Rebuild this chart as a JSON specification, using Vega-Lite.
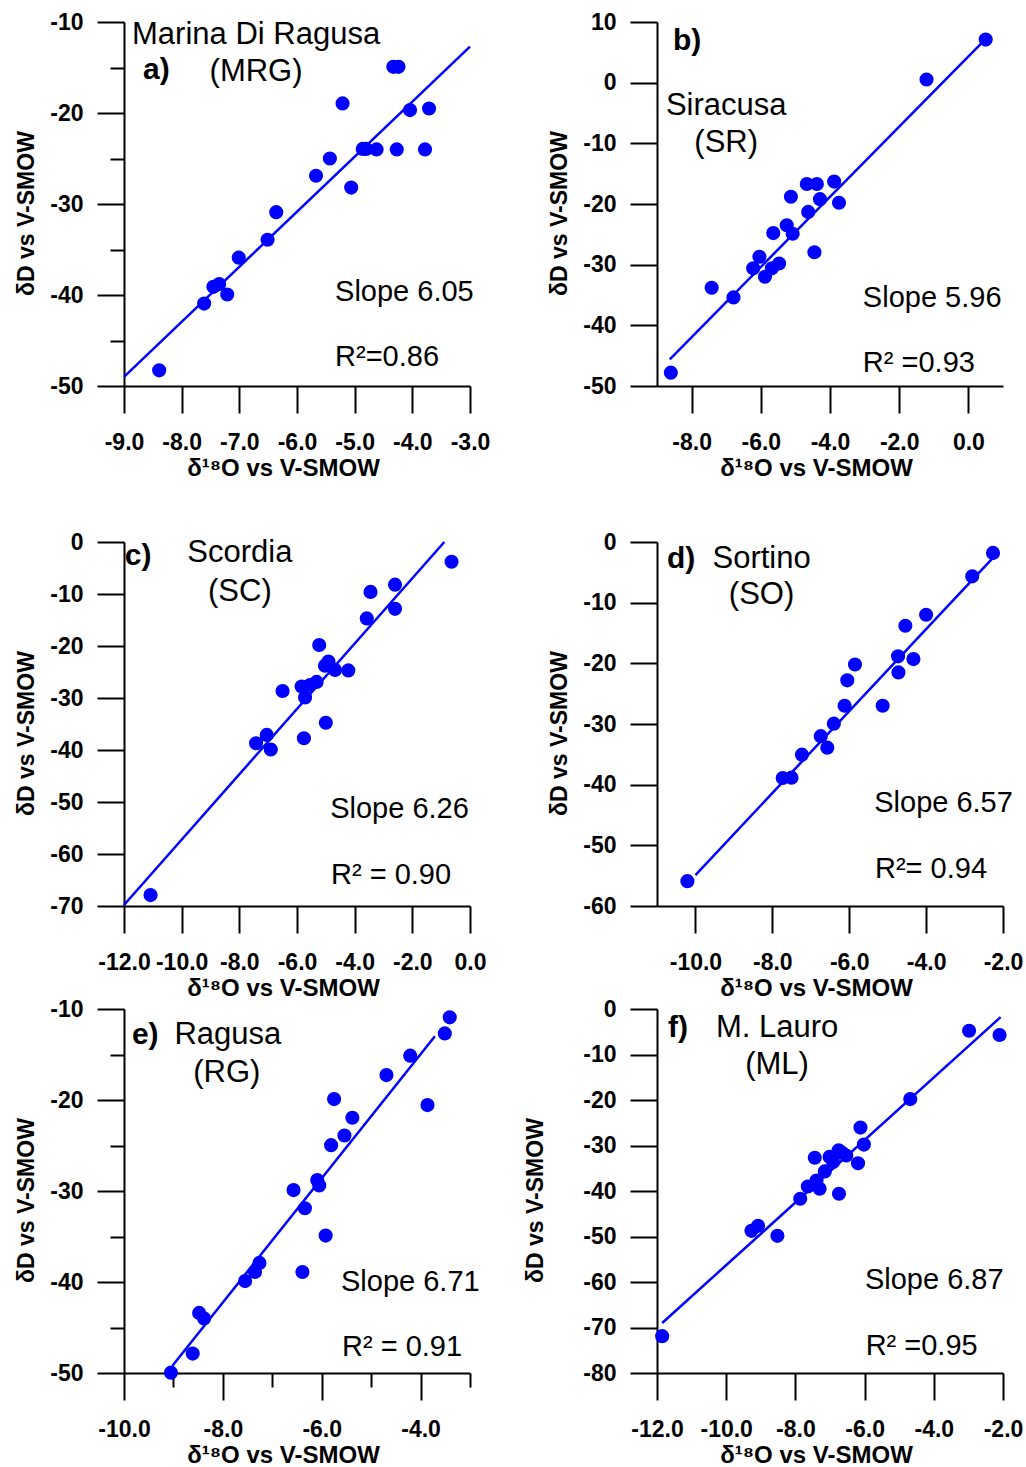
{
"$schema": "https://vega.github.io/schema/vega-lite/v6.json",
"padding": {"left": 15, "top": 11, "right": 5, "bottom": 5},
"background": "white",
"config": {
 "view": {"stroke": null},
 "font": "Liberation Sans",
 "axis": {"domainColor": "#000", "domainWidth": 2, "tickColor": "#000", "tickWidth": 2, "tickSize": 27, "labelFont": "Liberation Sans", "labelFontSize": 23, "labelFontWeight": "bold", "labelColor": "#000", "labelFlush": false, "labelOverlap": false, "labelBound": false, "titleFont": "Liberation Sans", "titleFontSize": 23, "titleFontWeight": "bold", "titleColor": "#000", "grid": false},
 "axisX": {"labelPadding": 18, "titlePadding": 2, "titleX": 159, "format": ".1f", "titleFontSize": 24},
 "axisY": {"labelPadding": 14, "titlePadding": 11, "titleY": 191, "format": "d"},
 "text": {"font": "Liberation Sans", "color": "#000"}
},
"datasets": {
 "pts": [
  {"p":"a","x":-8.39,"y":-48.28},{"p":"a","x":-7.61,"y":-40.94},{"p":"a","x":-7.45,"y":-39.1},{"p":"a","x":-7.35,"y":-38.8},{"p":"a","x":-7.21,"y":-39.95},{"p":"a","x":-7.01,"y":-35.9},{"p":"a","x":-6.51,"y":-33.93},{"p":"a","x":-6.36,"y":-30.9},{"p":"a","x":-5.67,"y":-26.9},{"p":"a","x":-5.43,"y":-25.0},{"p":"a","x":-5.21,"y":-18.95},{"p":"a","x":-5.06,"y":-28.2},{"p":"a","x":-4.86,"y":-23.95},{"p":"a","x":-4.8,"y":-23.95},{"p":"a","x":-4.62,"y":-24.0},{"p":"a","x":-4.27,"y":-24.0},{"p":"a","x":-4.33,"y":-14.93},{"p":"a","x":-4.24,"y":-14.93},{"p":"a","x":-4.04,"y":-19.68},{"p":"a","x":-3.71,"y":-19.5},{"p":"a","x":-3.78,"y":-24.0},
  {"p":"b","x":-8.6,"y":-47.8},{"p":"b","x":-7.42,"y":-33.8},{"p":"b","x":-6.79,"y":-35.4},{"p":"b","x":-6.22,"y":-30.6},{"p":"b","x":-6.04,"y":-28.7},{"p":"b","x":-5.88,"y":-32.0},{"p":"b","x":-5.68,"y":-30.6},{"p":"b","x":-5.47,"y":-29.8},{"p":"b","x":-5.64,"y":-24.8},{"p":"b","x":-5.25,"y":-23.5},{"p":"b","x":-5.08,"y":-24.9},{"p":"b","x":-5.13,"y":-18.8},{"p":"b","x":-4.67,"y":-16.7},{"p":"b","x":-4.38,"y":-16.7},{"p":"b","x":-4.63,"y":-21.3},{"p":"b","x":-4.29,"y":-19.2},{"p":"b","x":-4.45,"y":-27.96},{"p":"b","x":-3.88,"y":-16.3},{"p":"b","x":-3.74,"y":-19.8},{"p":"b","x":-1.21,"y":0.52},{"p":"b","x":0.5,"y":7.1},
  {"p":"c","x":-11.08,"y":-67.9},{"p":"c","x":-7.42,"y":-38.7},{"p":"c","x":-7.05,"y":-37.1},{"p":"c","x":-6.91,"y":-39.9},{"p":"c","x":-6.5,"y":-28.65},{"p":"c","x":-5.84,"y":-27.8},{"p":"c","x":-5.72,"y":-29.9},{"p":"c","x":-5.76,"y":-37.75},{"p":"c","x":-5.55,"y":-27.5},{"p":"c","x":-5.32,"y":-26.9},{"p":"c","x":-5.23,"y":-19.8},{"p":"c","x":-5.03,"y":-23.8},{"p":"c","x":-4.91,"y":-23.0},{"p":"c","x":-4.68,"y":-24.6},{"p":"c","x":-5.0,"y":-34.75},{"p":"c","x":-4.22,"y":-24.7},{"p":"c","x":-3.58,"y":-14.7},{"p":"c","x":-3.45,"y":-9.6},{"p":"c","x":-2.6,"y":-12.85},{"p":"c","x":-2.6,"y":-8.2},{"p":"c","x":-0.64,"y":-3.8},
  {"p":"d","x":-10.21,"y":-55.9},{"p":"d","x":-7.73,"y":-38.9},{"p":"d","x":-7.5,"y":-38.85},{"p":"d","x":-7.23,"y":-35.05},{"p":"d","x":-6.74,"y":-32.0},{"p":"d","x":-6.57,"y":-33.9},{"p":"d","x":-6.4,"y":-29.95},{"p":"d","x":-6.12,"y":-27.0},{"p":"d","x":-6.05,"y":-22.8},{"p":"d","x":-5.85,"y":-20.2},{"p":"d","x":-5.13,"y":-27.0},{"p":"d","x":-4.72,"y":-21.5},{"p":"d","x":-4.73,"y":-18.85},{"p":"d","x":-4.33,"y":-19.3},{"p":"d","x":-4.54,"y":-13.8},{"p":"d","x":-4.0,"y":-12.0},{"p":"d","x":-2.8,"y":-5.66},{"p":"d","x":-2.26,"y":-1.8},
  {"p":"e","x":-9.05,"y":-49.96},{"p":"e","x":-8.61,"y":-47.87},{"p":"e","x":-8.48,"y":-43.4},{"p":"e","x":-8.38,"y":-44.0},{"p":"e","x":-7.55,"y":-39.9},{"p":"e","x":-7.35,"y":-38.9},{"p":"e","x":-7.26,"y":-37.9},{"p":"e","x":-6.39,"y":-38.9},{"p":"e","x":-6.57,"y":-29.9},{"p":"e","x":-6.34,"y":-31.9},{"p":"e","x":-6.09,"y":-28.8},{"p":"e","x":-6.05,"y":-29.4},{"p":"e","x":-5.92,"y":-34.9},{"p":"e","x":-5.81,"y":-24.96},{"p":"e","x":-5.75,"y":-19.9},{"p":"e","x":-5.54,"y":-23.9},{"p":"e","x":-5.38,"y":-21.95},{"p":"e","x":-4.69,"y":-17.26},{"p":"e","x":-4.21,"y":-15.13},{"p":"e","x":-3.86,"y":-20.56},{"p":"e","x":-3.51,"y":-12.68},{"p":"e","x":-3.41,"y":-10.92},
  {"p":"f","x":-11.85,"y":-71.9},{"p":"f","x":-9.27,"y":-48.75},{"p":"f","x":-9.08,"y":-47.65},{"p":"f","x":-8.52,"y":-49.85},{"p":"f","x":-7.86,"y":-41.7},{"p":"f","x":-7.64,"y":-39.0},{"p":"f","x":-7.39,"y":-37.7},{"p":"f","x":-7.3,"y":-39.5},{"p":"f","x":-7.44,"y":-32.7},{"p":"f","x":-7.15,"y":-35.7},{"p":"f","x":-7.01,"y":-32.5},{"p":"f","x":-6.91,"y":-33.6},{"p":"f","x":-6.75,"y":-31.06},{"p":"f","x":-6.65,"y":-31.6},{"p":"f","x":-6.53,"y":-32.2},{"p":"f","x":-6.74,"y":-40.6},{"p":"f","x":-6.19,"y":-33.9},{"p":"f","x":-6.12,"y":-26.06},{"p":"f","x":-6.02,"y":-29.8},{"p":"f","x":-4.68,"y":-19.8},{"p":"f","x":-2.98,"y":-4.77},{"p":"f","x":-2.1,"y":-5.72}
 ],
 "lns": [
  {"p":"a","x":-9.0,"y":-49.0},{"p":"a","x":-3.0,"y":-12.7},
  {"p":"b","x":-8.63,"y":-45.6},{"p":"b","x":0.48,"y":7.1},
  {"p":"c","x":-12.0,"y":-69.8},{"p":"c","x":-0.89,"y":0.0},
  {"p":"d","x":-10.0,"y":-54.9},{"p":"d","x":-2.28,"y":-2.75},
  {"p":"e","x":-9.02,"y":-49.2},{"p":"e","x":-3.71,"y":-13.0},
  {"p":"f","x":-11.85,"y":-69.0},{"p":"f","x":-2.07,"y":-1.8}
 ],
 "nts": [
  {"p":"a","k":"n","x":-6.71,"y":-11.43,"t":"Marina Di Ragusa"},{"p":"a","k":"n","x":-6.71,"y":-15.5,"t":"(MRG)"},
  {"p":"b","k":"n","x":-7.0,"y":-3.84,"t":"Siracusa"},{"p":"b","k":"n","x":-7.0,"y":-9.93,"t":"(SR)"},
  {"p":"c","k":"n","x":-7.98,"y":-2.1,"t":"Scordia"},{"p":"c","k":"n","x":-7.98,"y":-9.6,"t":"(SC)"},
  {"p":"d","k":"n","x":-8.28,"y":-2.8,"t":"Sortino"},{"p":"d","k":"n","x":-8.28,"y":-8.74,"t":"(SO)"},
  {"p":"e","k":"n","x":-7.9,"y":-12.86,"t":"Ragusa"},{"p":"e","k":"n","x":-7.92,"y":-17.03,"t":"(RG)"},
  {"p":"f","k":"n","x":-8.53,"y":-4.2,"t":"M. Lauro"},{"p":"f","k":"n","x":-8.53,"y":-12.3,"t":"(ML)"},
  {"p":"a","k":"s","x":-5.34,"y":-39.67,"t":"Slope 6.05"},{"p":"a","k":"s","x":-5.34,"y":-46.8,"t":"R²=0.86"},
  {"p":"b","k":"s","x":-3.05,"y":-35.5,"t":"Slope 5.96"},{"p":"b","k":"s","x":-3.05,"y":-46.2,"t":"R² =0.93"},
  {"p":"c","k":"s","x":-4.85,"y":-51.3,"t":"Slope 6.26"},{"p":"c","k":"s","x":-4.82,"y":-64.0,"t":"R² = 0.90"},
  {"p":"d","k":"s","x":-5.35,"y":-43.0,"t":"Slope 6.57"},{"p":"d","k":"s","x":-5.33,"y":-53.9,"t":"R²= 0.94"},
  {"p":"e","k":"s","x":-5.61,"y":-40.0,"t":"Slope 6.71"},{"p":"e","k":"s","x":-5.59,"y":-47.1,"t":"R² = 0.91"},
  {"p":"f","k":"s","x":-5.99,"y":-59.6,"t":"Slope 6.87"},{"p":"f","k":"s","x":-5.97,"y":-74.1,"t":"R² =0.95"},
  {"p":"a","k":"l","x":-8.67,"y":-15.27,"t":"a)"},
  {"p":"b","k":"l","x":-8.54,"y":6.87,"t":"b)"},
  {"p":"c","k":"l","x":-11.97,"y":-2.7,"t":"c)"},
  {"p":"d","k":"l","x":-10.74,"y":-2.8,"t":"d)"},
  {"p":"e","k":"l","x":-9.84,"y":-12.86,"t":"e)"},
  {"p":"f","k":"l","x":-11.68,"y":-4.2,"t":"f)"}
 ]
},
"spacing": 51,
"vconcat": [
 {"hconcat": [
  {"width": 346, "height": 364, "layer": [
   {"data": {"name": "pts"}, "transform": [{"filter": "datum.p=='a'"}], "mark": {"type": "circle", "size": 200, "color": "#0000ff", "opacity": 1},
    "encoding": {"x": {"field": "x", "type": "quantitative", "scale": {"domain": [-9, -3], "nice": false, "zero": false}, "axis": {"title": "δ¹⁸O vs V-SMOW", "values": [-9,-8,-7,-6,-5,-4,-3], "labelExpr": "replace(datum.label, '−', '-')"}},
                 "y": {"field": "y", "type": "quantitative", "scale": {"domain": [-50, -10], "nice": false, "zero": false}, "axis": {"title": "δD vs V-SMOW", "values": [-50,-45,-40,-35,-30,-25,-20,-15,-10], "tickSize": {"condition": {"test": "datum.value % 10 !== 0", "value": 14}, "value": 27}, "labelExpr": "datum.value % 10 === 0 ? replace(datum.label, '−', '-') : ''"}}}},
   {"data": {"name": "lns"}, "transform": [{"filter": "datum.p=='a'"}], "mark": {"type": "line", "color": "#0000ff", "strokeWidth": 2.5}, "encoding": {"x": {"field": "x", "type": "quantitative"}, "y": {"field": "y", "type": "quantitative"}}},
   {"data": {"name": "nts"}, "transform": [{"filter": "datum.p=='a' && datum.k=='n'"}], "mark": {"type": "text", "fontSize": 31, "align": "center", "baseline": "middle"}, "encoding": {"x": {"field": "x", "type": "quantitative"}, "y": {"field": "y", "type": "quantitative"}, "text": {"field": "t"}}},
   {"data": {"name": "nts"}, "transform": [{"filter": "datum.p=='a' && datum.k=='s'"}], "mark": {"type": "text", "fontSize": 29, "align": "left", "baseline": "middle"}, "encoding": {"x": {"field": "x", "type": "quantitative"}, "y": {"field": "y", "type": "quantitative"}, "text": {"field": "t"}}},
   {"data": {"name": "nts"}, "transform": [{"filter": "datum.p=='a' && datum.k=='l'"}], "mark": {"type": "text", "fontSize": 30, "fontWeight": "bold", "align": "left", "baseline": "middle"}, "encoding": {"x": {"field": "x", "type": "quantitative"}, "y": {"field": "y", "type": "quantitative"}, "text": {"field": "t"}}}
  ]},
  {"width": 346, "height": 364, "layer": [
   {"data": {"name": "pts"}, "transform": [{"filter": "datum.p=='b'"}], "mark": {"type": "circle", "size": 200, "color": "#0000ff", "opacity": 1},
    "encoding": {"x": {"field": "x", "type": "quantitative", "scale": {"domain": [-9, 1], "nice": false, "zero": false}, "axis": {"title": "δ¹⁸O vs V-SMOW", "values": [-8,-6,-4,-2,0], "labelExpr": "replace(datum.label, '−', '-')"}},
                 "y": {"field": "y", "type": "quantitative", "scale": {"domain": [-50, 10], "nice": false, "zero": false}, "axis": {"title": "δD vs V-SMOW", "values": [-50,-40,-30,-20,-10,0,10], "labelExpr": "replace(datum.label, '−', '-')"}}}},
   {"data": {"name": "lns"}, "transform": [{"filter": "datum.p=='b'"}], "mark": {"type": "line", "color": "#0000ff", "strokeWidth": 2.5}, "encoding": {"x": {"field": "x", "type": "quantitative"}, "y": {"field": "y", "type": "quantitative"}}},
   {"data": {"name": "nts"}, "transform": [{"filter": "datum.p=='b' && datum.k=='n'"}], "mark": {"type": "text", "fontSize": 31, "align": "center", "baseline": "middle"}, "encoding": {"x": {"field": "x", "type": "quantitative"}, "y": {"field": "y", "type": "quantitative"}, "text": {"field": "t"}}},
   {"data": {"name": "nts"}, "transform": [{"filter": "datum.p=='b' && datum.k=='s'"}], "mark": {"type": "text", "fontSize": 29, "align": "left", "baseline": "middle"}, "encoding": {"x": {"field": "x", "type": "quantitative"}, "y": {"field": "y", "type": "quantitative"}, "text": {"field": "t"}}},
   {"data": {"name": "nts"}, "transform": [{"filter": "datum.p=='b' && datum.k=='l'"}], "mark": {"type": "text", "fontSize": 30, "fontWeight": "bold", "align": "left", "baseline": "middle"}, "encoding": {"x": {"field": "x", "type": "quantitative"}, "y": {"field": "y", "type": "quantitative"}, "text": {"field": "t"}}}
  ]}
 ], "spacing": 187, "bounds": "flush"},
 {"vconcat": [
  {"hconcat": [
   {"width": 346, "height": 364, "layer": [
    {"data": {"name": "pts"}, "transform": [{"filter": "datum.p=='c'"}], "mark": {"type": "circle", "size": 200, "color": "#0000ff", "opacity": 1},
     "encoding": {"x": {"field": "x", "type": "quantitative", "scale": {"domain": [-12, 0], "nice": false, "zero": false}, "axis": {"title": "δ¹⁸O vs V-SMOW", "values": [-12,-10,-8,-6,-4,-2,0], "labelExpr": "replace(datum.label, '−', '-')"}},
                  "y": {"field": "y", "type": "quantitative", "scale": {"domain": [-70, 0], "nice": false, "zero": false}, "axis": {"title": "δD vs V-SMOW", "values": [-70,-65,-60,-55,-50,-45,-40,-35,-30,-25,-20,-15,-10,-5,0], "tickSize": {"condition": {"test": "datum.value % 10 !== 0", "value": 14}, "value": 27}, "labelExpr": "datum.value % 10 === 0 ? replace(datum.label, '−', '-') : ''"}}}},
    {"data": {"name": "lns"}, "transform": [{"filter": "datum.p=='c'"}], "mark": {"type": "line", "color": "#0000ff", "strokeWidth": 2.5}, "encoding": {"x": {"field": "x", "type": "quantitative"}, "y": {"field": "y", "type": "quantitative"}}},
    {"data": {"name": "nts"}, "transform": [{"filter": "datum.p=='c' && datum.k=='n'"}], "mark": {"type": "text", "fontSize": 31, "align": "center", "baseline": "middle"}, "encoding": {"x": {"field": "x", "type": "quantitative"}, "y": {"field": "y", "type": "quantitative"}, "text": {"field": "t"}}},
    {"data": {"name": "nts"}, "transform": [{"filter": "datum.p=='c' && datum.k=='s'"}], "mark": {"type": "text", "fontSize": 29, "align": "left", "baseline": "middle"}, "encoding": {"x": {"field": "x", "type": "quantitative"}, "y": {"field": "y", "type": "quantitative"}, "text": {"field": "t"}}},
    {"data": {"name": "nts"}, "transform": [{"filter": "datum.p=='c' && datum.k=='l'"}], "mark": {"type": "text", "fontSize": 30, "fontWeight": "bold", "align": "left", "baseline": "middle"}, "encoding": {"x": {"field": "x", "type": "quantitative"}, "y": {"field": "y", "type": "quantitative"}, "text": {"field": "t"}}}
   ]},
   {"width": 346, "height": 364, "layer": [
    {"data": {"name": "pts"}, "transform": [{"filter": "datum.p=='d'"}], "mark": {"type": "circle", "size": 200, "color": "#0000ff", "opacity": 1},
     "encoding": {"x": {"field": "x", "type": "quantitative", "scale": {"domain": [-11, -2], "nice": false, "zero": false}, "axis": {"title": "δ¹⁸O vs V-SMOW", "values": [-10,-8,-6,-4,-2], "labelExpr": "replace(datum.label, '−', '-')"}},
                  "y": {"field": "y", "type": "quantitative", "scale": {"domain": [-60, 0], "nice": false, "zero": false}, "axis": {"title": "δD vs V-SMOW", "values": [-60,-55,-50,-45,-40,-35,-30,-25,-20,-15,-10,-5,0], "tickSize": {"condition": {"test": "datum.value % 10 !== 0", "value": 14}, "value": 27}, "labelExpr": "datum.value % 10 === 0 ? replace(datum.label, '−', '-') : ''"}}}},
    {"data": {"name": "lns"}, "transform": [{"filter": "datum.p=='d'"}], "mark": {"type": "line", "color": "#0000ff", "strokeWidth": 2.5}, "encoding": {"x": {"field": "x", "type": "quantitative"}, "y": {"field": "y", "type": "quantitative"}}},
    {"data": {"name": "nts"}, "transform": [{"filter": "datum.p=='d' && datum.k=='n'"}], "mark": {"type": "text", "fontSize": 31, "align": "center", "baseline": "middle"}, "encoding": {"x": {"field": "x", "type": "quantitative"}, "y": {"field": "y", "type": "quantitative"}, "text": {"field": "t"}}},
    {"data": {"name": "nts"}, "transform": [{"filter": "datum.p=='d' && datum.k=='s'"}], "mark": {"type": "text", "fontSize": 29, "align": "left", "baseline": "middle"}, "encoding": {"x": {"field": "x", "type": "quantitative"}, "y": {"field": "y", "type": "quantitative"}, "text": {"field": "t"}}},
    {"data": {"name": "nts"}, "transform": [{"filter": "datum.p=='d' && datum.k=='l'"}], "mark": {"type": "text", "fontSize": 30, "fontWeight": "bold", "align": "left", "baseline": "middle"}, "encoding": {"x": {"field": "x", "type": "quantitative"}, "y": {"field": "y", "type": "quantitative"}, "text": {"field": "t"}}}
   ]}
  ], "spacing": 187, "bounds": "flush"},
  {"hconcat": [
   {"width": 346, "height": 364, "layer": [
    {"data": {"name": "pts"}, "transform": [{"filter": "datum.p=='e'"}], "mark": {"type": "circle", "size": 200, "color": "#0000ff", "opacity": 1},
     "encoding": {"x": {"field": "x", "type": "quantitative", "scale": {"domain": [-10, -3], "nice": false, "zero": false}, "axis": {"title": "δ¹⁸O vs V-SMOW", "values": [-10,-9,-8,-7,-6,-5,-4,-3], "tickSize": {"condition": {"test": "datum.value % 2 !== 0", "value": 14}, "value": 27}, "labelExpr": "datum.value % 2 === 0 ? replace(datum.label, '−', '-') : ''"}},
                  "y": {"field": "y", "type": "quantitative", "scale": {"domain": [-50, -10], "nice": false, "zero": false}, "axis": {"title": "δD vs V-SMOW", "values": [-50,-45,-40,-35,-30,-25,-20,-15,-10], "tickSize": {"condition": {"test": "datum.value % 10 !== 0", "value": 14}, "value": 27}, "labelExpr": "datum.value % 10 === 0 ? replace(datum.label, '−', '-') : ''"}}}},
    {"data": {"name": "lns"}, "transform": [{"filter": "datum.p=='e'"}], "mark": {"type": "line", "color": "#0000ff", "strokeWidth": 2.5}, "encoding": {"x": {"field": "x", "type": "quantitative"}, "y": {"field": "y", "type": "quantitative"}}},
    {"data": {"name": "nts"}, "transform": [{"filter": "datum.p=='e' && datum.k=='n'"}], "mark": {"type": "text", "fontSize": 31, "align": "center", "baseline": "middle"}, "encoding": {"x": {"field": "x", "type": "quantitative"}, "y": {"field": "y", "type": "quantitative"}, "text": {"field": "t"}}},
    {"data": {"name": "nts"}, "transform": [{"filter": "datum.p=='e' && datum.k=='s'"}], "mark": {"type": "text", "fontSize": 29, "align": "left", "baseline": "middle"}, "encoding": {"x": {"field": "x", "type": "quantitative"}, "y": {"field": "y", "type": "quantitative"}, "text": {"field": "t"}}},
    {"data": {"name": "nts"}, "transform": [{"filter": "datum.p=='e' && datum.k=='l'"}], "mark": {"type": "text", "fontSize": 30, "fontWeight": "bold", "align": "left", "baseline": "middle"}, "encoding": {"x": {"field": "x", "type": "quantitative"}, "y": {"field": "y", "type": "quantitative"}, "text": {"field": "t"}}}
   ]},
   {"width": 346, "height": 364, "layer": [
    {"data": {"name": "pts"}, "transform": [{"filter": "datum.p=='f'"}], "mark": {"type": "circle", "size": 200, "color": "#0000ff", "opacity": 1},
     "encoding": {"x": {"field": "x", "type": "quantitative", "scale": {"domain": [-12, -2], "nice": false, "zero": false}, "axis": {"title": "δ¹⁸O vs V-SMOW", "values": [-12,-10,-8,-6,-4,-2], "labelExpr": "replace(datum.label, '−', '-')"}},
                  "y": {"field": "y", "type": "quantitative", "scale": {"domain": [-80, 0], "nice": false, "zero": false}, "axis": {"title": "δD vs V-SMOW", "titlePadding": 35, "values": [-80,-75,-70,-65,-60,-55,-50,-45,-40,-35,-30,-25,-20,-15,-10,-5,0], "tickSize": {"condition": {"test": "datum.value % 10 !== 0", "value": 14}, "value": 27}, "labelExpr": "datum.value % 10 === 0 ? replace(datum.label, '−', '-') : ''"}}}},
    {"data": {"name": "lns"}, "transform": [{"filter": "datum.p=='f'"}], "mark": {"type": "line", "color": "#0000ff", "strokeWidth": 2.5}, "encoding": {"x": {"field": "x", "type": "quantitative"}, "y": {"field": "y", "type": "quantitative"}}},
    {"data": {"name": "nts"}, "transform": [{"filter": "datum.p=='f' && datum.k=='n'"}], "mark": {"type": "text", "fontSize": 31, "align": "center", "baseline": "middle"}, "encoding": {"x": {"field": "x", "type": "quantitative"}, "y": {"field": "y", "type": "quantitative"}, "text": {"field": "t"}}},
    {"data": {"name": "nts"}, "transform": [{"filter": "datum.p=='f' && datum.k=='s'"}], "mark": {"type": "text", "fontSize": 29, "align": "left", "baseline": "middle"}, "encoding": {"x": {"field": "x", "type": "quantitative"}, "y": {"field": "y", "type": "quantitative"}, "text": {"field": "t"}}},
    {"data": {"name": "nts"}, "transform": [{"filter": "datum.p=='f' && datum.k=='l'"}], "mark": {"type": "text", "fontSize": 30, "fontWeight": "bold", "align": "left", "baseline": "middle"}, "encoding": {"x": {"field": "x", "type": "quantitative"}, "y": {"field": "y", "type": "quantitative"}, "text": {"field": "t"}}}
   ]}
  ], "spacing": 187, "bounds": "flush"}
 ], "spacing": -2}
]
}
